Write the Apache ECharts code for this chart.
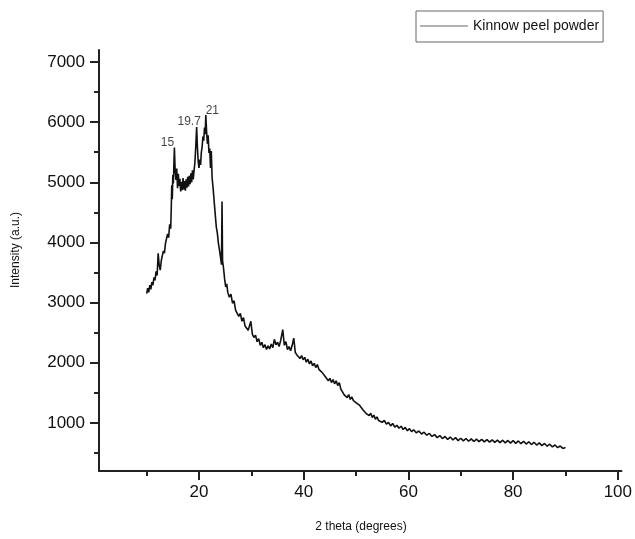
<!DOCTYPE html>
<html>
<head>
<meta charset="utf-8">
<script src="https://cdn.jsdelivr.net/npm/echarts@6/dist/echarts.min.js"></script>
<style>html,body{margin:0;padding:0;background:#fff;}#c{width:635px;height:539px;}</style>
</head>
<body>
<div id="c"></div>
<script>
const seriesName = 'Kinnow peel powder';
const xTitle = '2 theta (degrees)';
const yTitle = 'Intensity (a.u.)';
const xMajorTicks = [20, 40, 60, 80, 100];
const xMinorTicks = [10, 30, 50, 70, 90];
const yMajorTicks = [1000, 2000, 3000, 4000, 5000, 6000, 7000];
const yMinorTicks = [500, 1500, 2500, 3500, 4500, 5500, 6500];
const peakLabels = ['15', '19.7', '21'];
const peakTheta = [15.3, 19.55, 21.3];
const peakIntensity = [5580, 5920, 6120];

const twoTheta = [
10.0,10.2,10.4,10.6,10.8,11.0,11.2,11.4,11.6,11.8,12.0,12.2,12.4,12.6,12.8,13.0,13.2,13.4,13.6,13.8,14.0,14.2,14.4,14.6,
14.7,14.8,14.9,15.0,15.1,15.3,15.45,15.6,15.75,15.9,16.05,16.2,16.35,16.5,16.65,16.8,16.95,17.1,17.25,17.4,17.55,17.7,17.85,18.0,18.15,18.3,18.45,18.6,18.75,18.9,19.05,19.2,19.4,19.55,19.7,19.85,
20.0,20.15,20.3,20.45,20.6,20.75,20.9,21.05,21.2,21.3,21.45,21.6,21.75,21.9,22.05,22.2,22.35,22.5,22.7,22.9,23.1,23.3,23.5,23.7,23.9,24.1,24.3,24.4,24.5,24.7,24.9,25.1,25.3,25.5,
25.8,26.1,26.4,26.7,27.0,27.3,27.6,27.9,28.2,28.5,28.8,29.1,29.4,29.7,29.9,30.2,30.5,30.8,31.1,31.4,31.7,32.0,32.3,32.6,32.9,33.2,33.5,33.8,34.1,34.4,34.7,35.0,35.3,35.6,36.0,36.3,36.6,36.9,37.2,37.5,37.8,38.1,38.4,38.7,39.0,39.3,39.6,39.9,
40.2,40.5,40.8,41.1,41.4,41.7,42.0,42.3,42.6,42.9,43.2,43.5,43.8,44.1,44.4,44.7,45.0,45.3,45.6,45.9,46.2,46.5,46.8,47.1,47.4,47.7,48.0,48.3,48.6,48.9,49.2,49.5,49.8,50.1,50.4,50.7,51.0,51.3,51.6,51.9,52.2,52.5,52.8,53.1,53.4,53.7,54.0,54.3,54.6,
55.0,55.4,55.8,56.2,56.6,57.0,57.4,57.8,58.2,58.6,59.0,59.4,59.8,60.2,60.6,61.0,61.5,62.0,62.5,63.0,63.5,64.0,64.5,65.0,65.5,66.0,66.5,67.0,67.5,68.0,68.5,69.0,69.5,70.0,70.5,71.0,71.5,72.0,72.5,73.0,73.5,74.0,74.5,75.0,75.5,76.0,76.5,77.0,77.5,78.0,78.5,79.0,79.5,80.0,
80.5,81.0,81.5,82.0,82.5,83.0,83.5,84.0,84.5,85.0,85.5,86.0,86.5,87.0,87.5,88.0,88.5,89.0,89.5,90.0
];
const intensity = [
3150,3240,3170,3290,3220,3340,3290,3420,3370,3520,3450,3820,3620,3540,3700,3680,3860,3820,3990,3960,4140,4080,4300,4230,
4560,4950,4720,5120,4980,5580,5180,5040,5230,4900,5140,4940,5060,4850,5010,4870,5070,4880,5020,4860,5050,4910,5090,4930,5110,4970,5150,5000,5200,5050,5190,5310,5620,5920,5580,5340,
5240,5380,5290,5500,5590,5760,5690,5910,5800,6120,5850,5640,5780,5490,5560,5240,5520,5080,4900,4680,4470,4260,4160,3990,3880,3760,3630,4680,3700,3560,3390,3260,3310,3170,
3090,3140,2990,3030,2870,2880,2770,2820,2690,2750,2610,2630,2540,2520,2690,2470,2420,2460,2350,2400,2290,2340,2250,2300,2220,2280,2230,2310,2250,2390,2300,2340,2270,2370,2550,2290,2350,2220,2270,2200,2290,2410,2170,2130,2160,2070,2120,2050,
2090,2010,2060,1980,2030,1950,1990,1920,1970,1890,1920,1840,1870,1770,1750,1700,1740,1670,1720,1650,1700,1620,1670,1560,1560,1470,1500,1420,1470,1390,1430,1370,1400,1330,1350,1290,1300,1220,1220,1160,1190,1120,1160,1090,1130,1060,1100,1040,1070,
1010,1040,980,1010,950,990,930,960,910,945,890,925,870,905,855,885,835,865,815,845,795,825,775,805,755,790,740,775,725,765,715,755,705,745,700,740,695,735,690,730,688,726,684,722,680,718,676,714,672,712,668,708,664,706,
660,700,654,694,648,686,640,678,632,668,622,658,612,646,600,632,588,616,575,590
];

const lineData = twoTheta.map((t, i) => [t, intensity[i]]);
const peakOffsets = [[-7, -5], [-7.5, -5.5], [6.5, -4]];
const peakData = peakTheta.map((t, i) => ({
  value: [t, peakIntensity[i]], name: peakLabels[i], label: { offset: peakOffsets[i] }
}));

const axisColor = '#222';
const font = 'Liberation Sans';
const chart = echarts.init(document.getElementById('c'), null, { renderer: 'canvas' });
chart.setOption({
  backgroundColor: '#fff',
  animation: false,
  grid: { left: 99, right: 12, top: 50, bottom: 68, containLabel: false },
  legend: {
    show: true,
    data: [{ name: seriesName, icon: 'rect' }],
    left: 416, top: 11,
    padding: [8, 4, 9, 4],
    borderColor: '#666', borderWidth: 1,
    itemWidth: 48, itemHeight: 1,
    itemStyle: { color: '#666', borderWidth: 0 },
    textStyle: { fontFamily: font, fontSize: 14, color: '#111', padding: [3, 0, 0, 0] }
  },
  xAxis: [{
    type: 'value', position: 'bottom', min: 0.9, max: 100.7,
    axisLine: { show: true, onZero: false, lineStyle: { color: axisColor, width: 2 } },
    axisTick: { show: true, inside: false, length: 9, customValues: xMajorTicks, lineStyle: { color: axisColor, width: 2 } },
    axisLabel: { customValues: xMajorTicks, margin: 13, formatter: v => String(v), fontFamily: font, fontSize: 17, color: '#111' },
    splitLine: { show: false }
  }, {
    type: 'value', position: 'bottom', min: 0.9, max: 100.7,
    axisLine: { show: false },
    axisTick: { show: true, inside: false, length: 5, customValues: xMinorTicks, lineStyle: { color: axisColor, width: 2 } },
    axisLabel: { show: false },
    splitLine: { show: false }
  }],
  yAxis: [{
    type: 'value', position: 'left', min: 200, max: 7200,
    axisLine: { show: true, onZero: false, lineStyle: { color: axisColor, width: 2 } },
    axisTick: { show: true, inside: false, length: 9, customValues: yMajorTicks, lineStyle: { color: axisColor, width: 2 } },
    axisLabel: { customValues: yMajorTicks, margin: 14, formatter: v => String(v), fontFamily: font, fontSize: 17, color: '#111' },
    splitLine: { show: false }
  }, {
    type: 'value', position: 'left', min: 200, max: 7200,
    axisLine: { show: false },
    axisTick: { show: true, inside: false, length: 5, customValues: yMinorTicks, lineStyle: { color: axisColor, width: 2 } },
    axisLabel: { show: false },
    splitLine: { show: false }
  }],
  series: [{
    name: seriesName,
    type: 'line',
    xAxisIndex: 0, yAxisIndex: 0,
    data: lineData,
    symbol: 'none',
    lineStyle: { color: '#111', width: 1.6 },
    itemStyle: { color: '#666' },
    z: 3
  }, {
    name: 'peaks',
    type: 'scatter',
    xAxisIndex: 0, yAxisIndex: 0,
    data: peakData,
    symbolSize: 0,
    silent: true,
    label: {
      show: true, position: 'inside', formatter: p => p.name,
      fontFamily: font, fontSize: 12, color: '#111'
    },
    z: 4
  }],
  graphic: [{
    type: 'text', x: 361, y: 527,
    style: { text: xTitle, font: '12px "Liberation Sans"', fill: '#111', align: 'center', verticalAlign: 'middle' }
  }, {
    type: 'text', x: 16, y: 250, rotation: Math.PI / 2,
    style: { text: yTitle, font: '12px "Liberation Sans"', fill: '#111', align: 'center', verticalAlign: 'middle' }
  }]
});
</script>
</body>
</html>
